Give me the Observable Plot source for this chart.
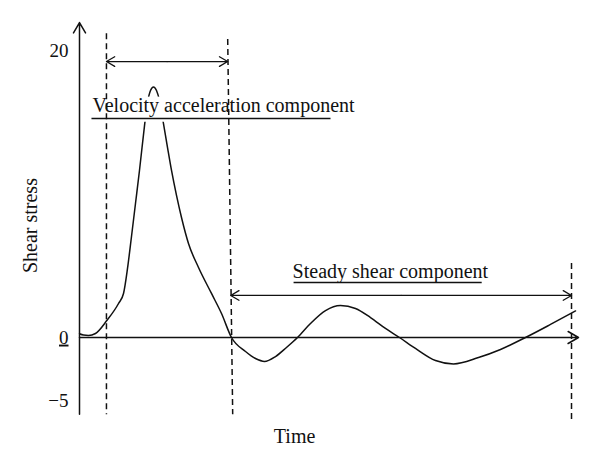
<!DOCTYPE html>
<html>
<head>
<meta charset="utf-8">
<script src="https://cdn.jsdelivr.net/npm/d3@7"></script>
<script src="https://cdn.jsdelivr.net/npm/@observablehq/plot@0.6"></script>
<style>
  html, body { margin: 0; padding: 0; background: #fff; }
</style>
</head>
<body>
<div id="chart"></div>
<script>
// Curve (time in arbitrary units 0–100, shear stress in schematic units)
const time = [0, 0.8, 1.8, 3.2, 5.47, 7.82, 8.82, 9.62, 10.42, 11.22, 12.02, 13.03, 13.63, 14.23, 14.83, 15.43, 16.03, 16.83, 17.64, 18.44, 19.44, 20.44, 21.84, 23.85, 26.45, 28.46, 30.46, 33.27, 35.27, 37.07, 39.28, 41.48, 43.69, 46.29, 49.3, 52.3, 55.31, 58.32, 61.32, 64.13, 67.33, 71.34, 74.95, 79.96, 84.37, 89.38, 94.39, 99.4];
const stress = [0.26, 0.17, 0.14, 0.28, 1.18, 2.37, 3.07, 4.81, 7.04, 9.34, 11.64, 14.77, 16.38, 17.21, 17.46, 17.21, 16.52, 14.91, 13.24, 11.64, 9.9, 8.36, 6.55, 4.88, 3.07, 1.67, 0, -1.11, -1.67, -1.9, -1.51, -0.79, 0, 0.98, 1.88, 2.23, 2.02, 1.39, 0.63, 0, -0.87, -1.83, -2.1, -1.59, -0.95, 0, 0.91, 1.85];

// Axis ticks
const yTicks = [-5, 0, 20];
const yTickLabels = ["−5", "0", "20"];

// Phase boundaries (time) and annotation labels
const phaseStart = [5.4, 29.7, 98.6];
const phaseStartBottom = [5.4, 30.7, 98.6];
const phaseTop = [21.2, 20.8, 5.2];
const phaseBottom = [-6.1, -6.1, -6.6];
const labels = ["Velocity acceleration component", "Steady shear component"];
const labelX = [2.6, 42.7];
const labelY = [16.17, 4.6];
const underlineX1 = [2.4, 42.9];
const underlineX2 = [50.3, 80.6];
const underlineY = [15.26, 3.83];
const spanY = [19.23, 2.93];
const spanX1 = [5.4, 30.3];
const spanX2 = [29.7, 98.6];

const curve = time.map((t, i) => ({t, v: stress[i]}));
const phases = phaseStart.map((t, i) => ({x1: t, x2: phaseStartBottom[i], y1: phaseTop[i], y2: phaseBottom[i]}));
const notes = labels.map((s, i) => ({s, x: labelX[i], y: labelY[i], u1: underlineX1[i], u2: underlineX2[i], uy: underlineY[i]}));
const spans = spanY.map((y, i) => ({y, a: spanX1[i], b: spanX2[i], m: (spanX1[i] + spanX2[i]) / 2}));

const serif = "'Liberation Serif', 'DejaVu Serif', serif";
const ink = "#111";

const chart = Plot.plot({
  width: 600,
  height: 470,
  marginLeft: 79,
  marginRight: 22,
  marginTop: 20,
  marginBottom: 56,
  style: {fontFamily: serif, fontSize: "19px", background: "#fff", color: ink},
  x: {type: "linear", domain: [0, 100], range: [79, 578], axis: null},
  y: {type: "linear", domain: [-5, 0, 20], range: [400, 337, 50], axis: null},
  marks: [
    // curve
    Plot.line(curve, {x: "t", y: "v", curve: "monotone-x", stroke: ink, strokeWidth: 1.5}),
    // white band behind the first label
    Plot.rect([notes[0]], {x1: "u1", x2: d => d.u2 + 4, y1: 15.0, y2: 16.75, fill: "white"}),
    // axes with arrow heads
    Plot.arrow([0], {x1: 0, y1: -6.1, x2: 0, y2: 21.95, stroke: ink, strokeWidth: 1.5, headLength: 12, bend: 0}),
    Plot.arrow([0], {x1: 0, y1: 0, x2: 100, y2: 0, stroke: ink, strokeWidth: 1.5, headLength: 12, bend: 0}),
    // dashed phase boundaries
    Plot.link(phases, {x1: "x1", y1: "y1", x2: "x2", y2: "y2", stroke: ink, strokeWidth: 1.5, strokeDasharray: "6,4"}),
    // double arrows for spans
    Plot.arrow(spans, {x1: "m", y1: "y", x2: "a", y2: "y", stroke: ink, strokeWidth: 1.3, headLength: 11, bend: 0}),
    Plot.arrow(spans, {x1: "m", y1: "y", x2: "b", y2: "y", stroke: ink, strokeWidth: 1.3, headLength: 11, bend: 0}),
    // labels and underlines
    Plot.text(notes, {x: "x", y: "y", text: "s", textAnchor: "start", fontSize: 20, fill: ink}),
    Plot.link(notes, {x1: "u1", x2: "u2", y1: "uy", y2: "uy", stroke: ink, strokeWidth: 1.5}),
    // y tick labels
    Plot.axisY(yTicks, {tickSize: 0, tickPadding: 11, tickFormat: (d) => yTickLabels[yTicks.indexOf(d)], fontSize: 19, label: null}),
    // axis titles
    Plot.text(["Shear stress"], {frameAnchor: "left", textAnchor: "middle", dx: -49, rotate: -90, fontSize: 20, fill: ink, y: 7.8}),
    Plot.text(["Time"], {x: 43.1, frameAnchor: "bottom", dy: 28, fontSize: 20, fill: ink})
  ]
});

document.getElementById("chart").appendChild(chart);
// underline the zero tick label as in the original
d3.select(chart).selectAll("text").filter(function() { return this.textContent === "0"; })
  .attr("text-decoration", "underline");
</script>
</body>
</html>
